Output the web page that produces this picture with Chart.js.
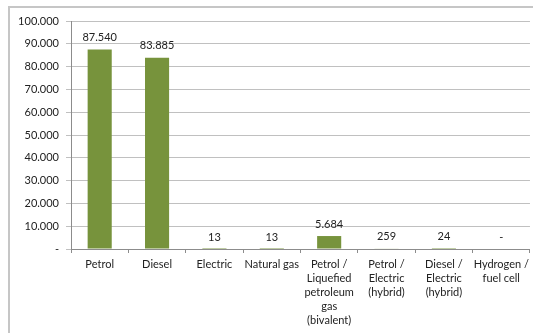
<!DOCTYPE html>
<html>
<head>
<meta charset="utf-8">
<script src="https://cdn.jsdelivr.net/npm/chart.js@4"></script>
<style>
  html, body { margin: 0; padding: 0; background: #ffffff; }
  #wrap { width: 533px; height: 333px; position: relative; }
</style>
</head>
<body>
<div id="wrap"><canvas id="c"></canvas></div>
<script>
// Registered vehicles by fuel type
const categories = [
  ["Petrol"],
  ["Diesel"],
  ["Electric"],
  ["Natural gas"],
  ["Petrol /", "Liquefied", "petroleum", "gas", "(bivalent)"],
  ["Petrol /", "Electric", "(hybrid)"],
  ["Diesel /", "Electric", "(hybrid)"],
  ["Hydrogen /", "fuel cell"]
];
const vehicles = [87540, 83885, 13, 13, 5684, 259, 24, 0];
const yTicks = [0, 10000, 20000, 30000, 40000, 50000, 60000, 70000, 80000, 90000, 100000];

const FONT = "Lato, 'Open Sans', sans-serif";

function fmt(n) {
  if (n === 0) return "-";
  return Math.round(n).toLocaleString("en-US").replace(/,/g, ".");
}

// Frame around the chart
const framePlugin = {
  id: "frame",
  beforeDraw(chart) {
    const ctx = chart.ctx;
    ctx.save();
    ctx.strokeStyle = "#c6c6c6";
    ctx.lineWidth = 2;
    ctx.beginPath();
    ctx.moveTo(9, 340);
    ctx.lineTo(9, 7);
    ctx.lineTo(540, 7);
    ctx.stroke();
    ctx.restore();
  }
};

// Value labels above each bar
const valueLabels = {
  id: "valueLabels",
  afterDatasetsDraw(chart) {
    const ctx = chart.ctx;
    const meta = chart.getDatasetMeta(0);
    ctx.save();
    ctx.font = "11px " + FONT;
    ctx.fillStyle = "#222222";
    ctx.textAlign = "center";
    ctx.textBaseline = "middle";
    meta.data.forEach((bar, i) => {
      const v = chart.data.datasets[0].data[i];
      ctx.fillText(fmt(v), bar.x, bar.y - 12);
    });
    ctx.restore();
  }
};

new Chart(document.getElementById("c"), {
  type: "bar",
  data: {
    labels: categories,
    datasets: [{
      data: vehicles,
      backgroundColor: "#77933c",
      borderWidth: 0,
      categoryPercentage: 1.0,
      barPercentage: 0.42
    }]
  },
  options: {
    responsive: true,
    maintainAspectRatio: false,
    animation: false,
    devicePixelRatio: 1,
    layout: { padding: { top: 21, right: 1, left: 0, bottom: 0 } },
    plugins: {
      legend: { display: false },
      tooltip: { enabled: false }
    },
    scales: {
      x: {
        offset: true,
        grid: {
          offset: true,
          drawOnChartArea: false,
          drawTicks: true,
          tickLength: 4,
          color: "#8c8c8c"
        },
        border: { display: true, color: "#8c8c8c", width: 1 },
        ticks: {
          color: "#222222",
          font: { family: FONT, size: 11, lineHeight: 1.28 },
          padding: 4,
          maxRotation: 0,
          minRotation: 0,
          autoSkip: false
        },
        afterFit(scale) { scale.height = 84; }
      },
      y: {
        min: 0,
        max: 100000,
        afterBuildTicks(scale) { scale.ticks = yTicks.map(v => ({ value: v })); },
        grid: {
          color: "#c0c0c0",
          drawTicks: true,
          tickLength: 5
        },
        border: { display: true, color: "#8c8c8c", width: 1 },
        ticks: {
          color: "#222222",
          font: { family: FONT, size: 11 },
          padding: 7,
          callback: (v) => fmt(v)
        },
        afterFit(scale) { scale.width = 71; }
      }
    }
  },
  plugins: [framePlugin, valueLabels]
});
</script>
</body>
</html>
